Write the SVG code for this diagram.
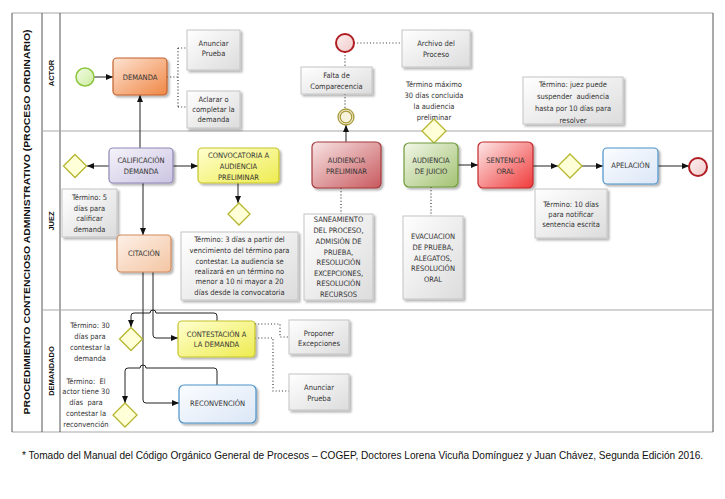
<svg xmlns="http://www.w3.org/2000/svg" width="725" height="499" viewBox="0 0 725 499">
<defs>
<style>
.t{font-family:"Liberation Sans Narrow","DejaVu Sans Condensed","Liberation Sans",sans-serif;font-size:7.5px;fill:#333;text-anchor:middle}
.n{font-family:"Liberation Sans Narrow","DejaVu Sans Condensed","Liberation Sans",sans-serif;font-size:7.5px;fill:#333;text-anchor:middle}
.pre{white-space:pre}
.lane{font-family:"Liberation Sans","Arial",sans-serif;font-size:7.5px;font-weight:bold;fill:#111;text-anchor:middle}
.pool{font-family:"Liberation Sans","Arial",sans-serif;font-size:8.3px;font-weight:bold;fill:#111;text-anchor:middle}
.foot{font-family:"Liberation Sans","Arial",sans-serif;font-size:10.1px;fill:#111}
.ann{fill:url(#gAnn);stroke:#c4c4c4;stroke-width:1;filter:url(#sh)}
.task{stroke-width:1.2;filter:url(#sh)}
.dia{fill:#ffffd8;stroke:#b5b52e;stroke-width:1.3}
.ca{fill:none;stroke:#222;stroke-width:1;marker-end:url(#arr)}
.dot{fill:none;stroke:#333;stroke-width:1.2;stroke-dasharray:1 2.2}
.ln{stroke:#555;stroke-width:1}
.lg{stroke:#a8a8a8;stroke-width:1.2}
</style>
<marker id="arr" markerWidth="7" markerHeight="6" refX="7" refY="3" orient="auto" markerUnits="userSpaceOnUse">
<path d="M0,0 L7,3 L0,6 z" fill="#111"/>
</marker>
<filter id="sh" x="-20%" y="-20%" width="150%" height="150%">
<feGaussianBlur in="SourceAlpha" stdDeviation="1.3"/>
<feOffset dx="2" dy="2" result="b"/>
<feComponentTransfer><feFuncA type="linear" slope="0.3"/></feComponentTransfer>
<feMerge><feMergeNode/><feMergeNode in="SourceGraphic"/></feMerge>
</filter>
<linearGradient id="gAnn" x1="0" y1="0" x2="1" y2="1"><stop offset="0" stop-color="#ffffff"/><stop offset="1" stop-color="#dcdcdc"/></linearGradient>
<linearGradient id="gOr" x1="0" y1="0" x2="1" y2="1"><stop offset="0" stop-color="#fde3d2"/><stop offset="1" stop-color="#f08745"/></linearGradient>
<linearGradient id="gPu" x1="0" y1="0" x2="1" y2="1"><stop offset="0" stop-color="#f5f3fa"/><stop offset="1" stop-color="#cbc4e2"/></linearGradient>
<linearGradient id="gYe" x1="0" y1="0" x2="1" y2="1"><stop offset="0" stop-color="#ffffd0"/><stop offset="1" stop-color="#eeec50"/></linearGradient>
<linearGradient id="gPe" x1="0" y1="0" x2="1" y2="1"><stop offset="0" stop-color="#fdf1e8"/><stop offset="1" stop-color="#f4c5a3"/></linearGradient>
<linearGradient id="gRd" x1="0" y1="0" x2="1" y2="1"><stop offset="0" stop-color="#f8e4e4"/><stop offset="1" stop-color="#c85a5e"/></linearGradient>
<linearGradient id="gGr" x1="0" y1="0" x2="1" y2="1"><stop offset="0" stop-color="#f2f7e8"/><stop offset="1" stop-color="#a3c273"/></linearGradient>
<linearGradient id="gRr" x1="0" y1="0" x2="1" y2="1"><stop offset="0" stop-color="#fde8e8"/><stop offset="1" stop-color="#f03a3a"/></linearGradient>
<linearGradient id="gBl" x1="0" y1="0" x2="1" y2="1"><stop offset="0" stop-color="#fbfdff"/><stop offset="1" stop-color="#dbe6f6"/></linearGradient>
<linearGradient id="gSt" x1="0" y1="0" x2="1" y2="1"><stop offset="0" stop-color="#f2fbe4"/><stop offset="1" stop-color="#cdeca0"/></linearGradient>
<linearGradient id="gEn" x1="0" y1="0" x2="1" y2="1"><stop offset="0" stop-color="#fdf0f0"/><stop offset="1" stop-color="#f1caca"/></linearGradient>
</defs>

<g id="pool">
<rect x="12" y="13" width="701" height="419" fill="#fff" stroke="none"/>
<line class="lg" x1="12" y1="13" x2="713" y2="13"/>
<line class="lg" x1="12" y1="432" x2="713" y2="432"/>
<line class="ln" x1="12" y1="13" x2="12" y2="432"/>
<line class="ln" x1="713" y1="13" x2="713" y2="432"/>
<line class="ln" x1="42" y1="13" x2="42" y2="432"/>
<line class="ln" x1="60" y1="13" x2="60" y2="432"/>
<line class="lg" x1="42" y1="131" x2="713" y2="131"/>
<line class="lg" x1="42" y1="310" x2="713" y2="310"/>
<text class="pool" transform="translate(30,222) rotate(-90)" textLength="385" lengthAdjust="spacingAndGlyphs">PROCEDIMIENTO CONTENCIOSO ADMINISTRATIVO (PROCESO ORDINARIO)</text>
<text class="lane" transform="translate(53.5,73) rotate(-90)">ACTOR</text>
<text class="lane" transform="translate(53.5,221) rotate(-90)">JUEZ</text>
<text class="lane" transform="translate(53.5,371) rotate(-90)">DEMANDADO</text>
</g>

<g id="connectors">
<line class="ca" x1="94" y1="77" x2="113" y2="77"/>
<line class="ca" x1="140" y1="148" x2="140" y2="95"/>
<path class="dot" d="M167,77 H178 M178,48 V107 M178,48 H187 M178,107 H187"/>
<path class="dot" d="M354,43 H402"/>
<path class="dot" d="M345,52 V67"/>
<path class="dot" d="M345,94 V108"/>
<line class="ca" x1="346" y1="142" x2="346" y2="125"/>
<line class="ca" x1="109" y1="166" x2="87" y2="166"/>
<line class="ca" x1="173" y1="166" x2="198" y2="166"/>
<line class="ca" x1="238" y1="183" x2="238" y2="203"/>
<line class="ca" x1="143" y1="183" x2="143" y2="235"/>
<path class="dot" d="M341,188 V214"/>
<path class="dot" d="M431,187 V216"/>
<line class="ca" x1="458" y1="165" x2="478" y2="165"/>
<line class="ca" x1="533" y1="166" x2="558" y2="166"/>
<line class="ca" x1="582" y1="166" x2="603" y2="166"/>
<line class="ca" x1="658" y1="166" x2="689" y2="166"/>
<path class="ca" d="M153,272 V335 Q153,338 156,338 H178"/>
<path class="ca" d="M143,272 V400 Q143,403 146,403 H179"/>
<path class="ca" d="M217,321 V316 Q217,313 214,313 H156 A3,3 0 0 0 150,313 H134 Q131,313 131,316 V327"/>
<path class="ca" d="M217,385 V371 Q217,368 214,368 H146 A3,3 0 0 0 140,368 H128 Q125,368 125,371 V403"/>
<path class="dot" d="M255,324 H280 V337 H289"/>
<path class="dot" d="M255,338 H273 V391 H289"/>
</g>

<g id="start">
<circle cx="85" cy="77" r="9" fill="url(#gSt)" stroke="#8cc63e" stroke-width="1.5"/>
</g>

<g id="demanda">
<rect class="task" x="113" y="58" width="54" height="37" rx="4" fill="url(#gOr)" stroke="#c3612a"/>
<text class="n" x="140" y="79.5">DEMANDA</text>
</g>

<g id="ann-anunciar1">
<rect class="ann" x="187" y="30" width="53" height="40"/>
<text class="t" x="213.5" y="45.5">Anunciar</text>
<text class="t" x="213.5" y="56">Prueba</text>
</g>

<g id="ann-aclarar">
<rect class="ann" x="187" y="91" width="53" height="37"/>
<text class="t" x="213.5" y="101.5">Aclarar o</text>
<text class="t" x="213.5" y="111.5">completar la</text>
<text class="t" x="213.5" y="121.5">demanda</text>
</g>

<g id="end-top">
<circle cx="345" cy="43" r="9" fill="url(#gEn)" stroke="#b01e23" stroke-width="2"/>
</g>

<g id="ann-archivo">
<rect class="ann" x="402" y="30" width="68" height="37"/>
<text class="t" x="436" y="46">Archivo del</text>
<text class="t" x="436" y="57">Proceso</text>
</g>

<g id="ann-falta">
<rect class="ann" x="301" y="67" width="71" height="27"/>
<text class="t" x="336.5" y="78">Falta de</text>
<text class="t" x="336.5" y="89">Comparecencia</text>
</g>

<g id="intermediate">
<circle cx="346" cy="117" r="8" fill="#f6f2dc" stroke="#a89a3a" stroke-width="1.3"/>
<circle cx="346" cy="117" r="5.8" fill="none" stroke="#a89a3a" stroke-width="1.3"/>
</g>

<g id="term-maximo">
<text class="t" x="434" y="87">Término máximo</text>
<text class="t" x="434" y="98">30 días concluida</text>
<text class="t" x="434" y="109">la audiencia</text>
<text class="t" x="434" y="120">preliminar</text>
</g>
<g id="gw-maximo">
<polygon class="dia" points="434,119 446,131 434,143 422,131"/>
</g>

<g id="ann-juez-suspender">
<rect class="ann" x="523" y="77" width="100" height="47"/>
<text class="t" x="573" y="87">Término: juez puede</text>
<text class="t pre" x="573" y="99">suspender  audiencia</text>
<text class="t" x="573" y="111">hasta por 10 días para</text>
<text class="t" x="573" y="123">resolver</text>
</g>

<g id="gw-calif">
<polygon class="dia" points="75,154.5 86.5,166 75,177.5 63.5,166"/>
</g>

<g id="calificacion">
<rect class="task" x="109" y="148" width="64" height="35" rx="4" fill="url(#gPu)" stroke="#8f87b6"/>
<text class="n" x="141" y="162.5">CALIFICACIÓN</text>
<text class="n" x="141" y="173.5">DEMANDA</text>
</g>

<g id="convocatoria">
<rect class="task" x="198" y="148" width="81" height="35" rx="4" fill="url(#gYe)" stroke="#c6c42e"/>
<text class="n" x="238.5" y="157.5">CONVOCATORIA A</text>
<text class="n" x="238.5" y="168.5">AUDIENCIA</text>
<text class="n" x="238.5" y="179.5">PRELIMINAR</text>
</g>

<g id="gw-convoc">
<polygon class="dia" points="239,203 250,214 239,225 228,214"/>
</g>

<g id="ann-5dias">
<rect class="ann" x="62" y="189" width="55" height="48"/>
<text class="t" x="89.5" y="199.5">Término: 5</text>
<text class="t" x="89.5" y="210.5">días para</text>
<text class="t" x="89.5" y="221">calificar</text>
<text class="t" x="89.5" y="231.5">demanda</text>
</g>

<g id="citacion">
<rect class="task" x="117" y="235" width="54" height="37" rx="4" fill="url(#gPe)" stroke="#d18b5c"/>
<text class="n" x="144" y="255.5">CITACIÓN</text>
</g>

<g id="ann-3dias">
<rect class="ann" x="181" y="232" width="117" height="68"/>
<text class="t" x="239.5" y="241.5">Término: 3 días a partir del</text>
<text class="t" x="239.5" y="253">vencimiento del término para</text>
<text class="t" x="239.5" y="263.5">contestar. La audiencia se</text>
<text class="t" x="239.5" y="273.5">realizará en un término no</text>
<text class="t" x="239.5" y="284">menor a 10 ni mayor a 20</text>
<text class="t" x="239.5" y="294.5">días desde la convocatoria</text>
</g>

<g id="audiencia-preliminar">
<rect class="task" x="312" y="142" width="69" height="46" rx="5" fill="url(#gRd)" stroke="#a33a3f"/>
<text class="n" x="346.5" y="162.5">AUDIENCIA</text>
<text class="n" x="346.5" y="173.5">PRELIMINAR</text>
</g>

<g id="ann-saneamiento">
<rect class="ann" x="304" y="214" width="69" height="86"/>
<text class="t" x="338.5" y="221.5">SANEAMIENTO</text>
<text class="t" x="338.5" y="233">DEL PROCESO,</text>
<text class="t" x="338.5" y="243.5">ADMISIÓN DE</text>
<text class="t" x="338.5" y="254.5">PRUEBA,</text>
<text class="t" x="338.5" y="264.5">RESOLUCIÓN</text>
<text class="t" x="338.5" y="275.5">EXCEPCIONES,</text>
<text class="t" x="338.5" y="285.5">RESOLUCIÓN</text>
<text class="t" x="338.5" y="296.5">RECURSOS</text>
</g>

<g id="audiencia-juicio">
<rect class="task" x="404" y="143" width="54" height="44" rx="5" fill="url(#gGr)" stroke="#6f9a3a"/>
<text class="n" x="431" y="162.5">AUDIENCIA</text>
<text class="n" x="431" y="173.5">DE JUICIO</text>
</g>

<g id="ann-evacuacion">
<rect class="ann" x="403" y="216" width="60" height="83"/>
<text class="t" x="433" y="238.5">EVACUACION</text>
<text class="t" x="433" y="249.5">DE PRUEBA,</text>
<text class="t" x="433" y="260.5">ALEGATOS,</text>
<text class="t" x="433" y="270.5">RESOLUCIÓN</text>
<text class="t" x="433" y="281.5">ORAL</text>
</g>

<g id="sentencia">
<rect class="task" x="478" y="142" width="55" height="46" rx="5" fill="url(#gRr)" stroke="#c2282c"/>
<text class="n" x="505.5" y="162.5">SENTENCIA</text>
<text class="n" x="505.5" y="173.5">ORAL</text>
</g>

<g id="gw-sentencia">
<polygon class="dia" points="570,154 582,166 570,178 558,166"/>
</g>

<g id="apelacion">
<rect class="task" x="603" y="148" width="55" height="36" rx="4" fill="url(#gBl)" stroke="#4b92c9"/>
<text class="n" x="630.5" y="168">APELACIÓN</text>
</g>

<g id="end-right">
<circle cx="698" cy="167" r="9" fill="url(#gEn)" stroke="#b01e23" stroke-width="2"/>
</g>

<g id="ann-10dias">
<rect class="ann" x="535" y="189" width="72" height="49"/>
<text class="t" x="571" y="206.5">Término: 10 días</text>
<text class="t" x="571" y="216.5">para notificar</text>
<text class="t" x="571" y="226.5">sentencia escrita</text>
</g>

<g id="contestacion">
<rect class="task" x="178" y="321" width="77" height="36" rx="4" fill="url(#gYe)" stroke="#c6c42e"/>
<text class="n" x="216.5" y="336.5">CONTESTACIÓN A</text>
<text class="n" x="216.5" y="346.5">LA DEMANDA</text>
</g>

<g id="reconvencion">
<rect class="task" x="179" y="385" width="77" height="38" rx="5" fill="url(#gBl)" stroke="#4b92c9"/>
<text class="n" x="217.5" y="405.5">RECONVENCIÓN</text>
</g>

<g id="gw-contestar">
<polygon class="dia" points="131,327.5 142.5,339 131,350.5 119.5,339"/>
</g>
<g id="gw-reconv">
<polygon class="dia" points="125,403 137,415 125,427 113,415"/>
</g>

<g id="term-30dias">
<text class="t" x="90" y="327.5">Término: 30</text>
<text class="t" x="90" y="338.5">días para</text>
<text class="t" x="90" y="349.5">contestar la</text>
<text class="t" x="90" y="360.5">demanda</text>
</g>

<g id="term-actor">
<text class="t pre" x="86" y="383.5">Término:  El</text>
<text class="t" x="86" y="394">actor tiene 30</text>
<text class="t pre" x="86" y="404.5">días  para</text>
<text class="t" x="86" y="415.5">contestar la</text>
<text class="t" x="86" y="426.5">reconvención</text>
</g>

<g id="ann-proponer">
<rect class="ann" x="289" y="320" width="60" height="34"/>
<text class="t" x="319" y="335.5">Proponer</text>
<text class="t" x="319" y="345.5">Excepciones</text>
</g>

<g id="ann-anunciar2">
<rect class="ann" x="289" y="374" width="60" height="36"/>
<text class="t" x="319" y="389.5">Anunciar</text>
<text class="t" x="319" y="400.5">Prueba</text>
</g>

<g id="footer">
<text class="foot" x="22" y="458.5">* Tomado del Manual del Código Orgánico General de Procesos – COGEP, Doctores Lorena Vicuña Domínguez y Juan Chávez, Segunda Edición 2016.</text>
</g>
</svg>
